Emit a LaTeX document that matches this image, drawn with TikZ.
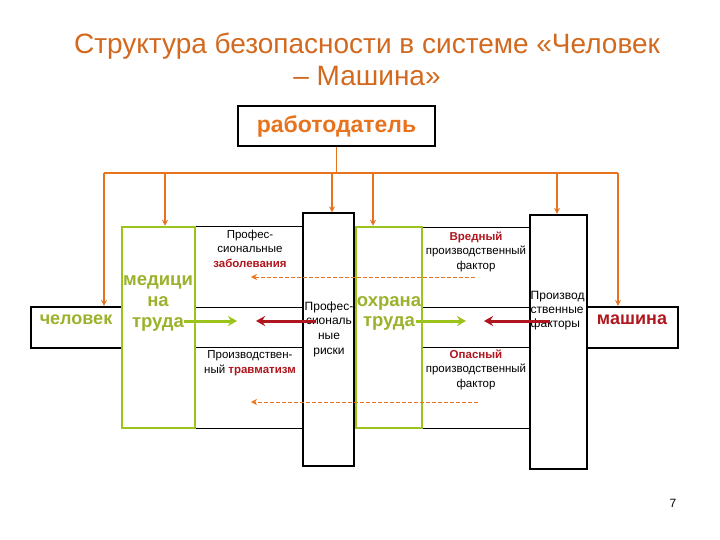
\documentclass[tikz,border=0pt]{standalone}
\usepackage{fontspec}
\setmainfont{Liberation Sans}
\usetikzlibrary{arrows.meta}
\definecolor{ttl}{HTML}{D2691E}
\definecolor{org}{HTML}{E8731E}
\definecolor{grn}{HTML}{9CC21C}
\definecolor{gtxt}{HTML}{9AB22C}
\definecolor{dred}{HTML}{B0161E}
\tikzset{
  thickbox/.style={draw=black, line width=2.2pt, inner sep=0pt},
  thinbox/.style={draw=black, line width=1pt, inner sep=0pt},
  greenbox/.style={draw=grn, line width=2.5pt, inner sep=0pt},
  bus/.style={draw=org, line width=2.5pt},
  stem/.style={draw=org, line width=1.3pt},
  drop/.style={draw=org, line width=2.5pt, -{Stealth[length=6pt,width=6pt]}},
  garrow/.style={draw=grn, line width=3pt, -{Stealth[length=9pt,width=10pt]}},
  rarrow/.style={draw=dred, line width=3pt, -{Stealth[length=9pt,width=10pt]}},
  darrow/.style={draw=org, line width=0.8pt, dash pattern=on 4pt off 2pt, -{Stealth[length=6pt,width=6pt]}},
  small/.style={font=\fontsize{11.5}{14.5}\selectfont, align=center, inner sep=0pt},
}
\begin{document}
\begin{tikzpicture}[x=1pt,y=-1pt]
\useasboundingbox (0,0) rectangle (720,540);
% title
\node[text=ttl, font=\fontsize{28}{32}\selectfont, align=center] (title) at (367,59) {Структура безопасности в системе «Человек\\– Машина»};
% employer
\node[thickbox, minimum width=197pt, minimum height=40pt, text=org, font=\fontsize{23}{26}\selectfont\bfseries] (emp) at (336.5,126) {работодатель};
% cell grids
\node[thinbox, minimum width=108pt, minimum height=201pt] (lcells) at (249,327.5) {};
\node[thinbox, minimum width=108pt, minimum height=200pt] (rcells) at (476,328) {};
\draw[line width=1pt] (lcells.west |- 0,307) -- (lcells.east |- 0,307);
\draw[line width=1pt] (lcells.west |- 0,347) -- (lcells.east |- 0,347);
\draw[line width=1pt] (rcells.west |- 0,307) -- (rcells.east |- 0,307);
\draw[line width=1pt] (rcells.west |- 0,347) -- (rcells.east |- 0,347);
% boxes
\node[thickbox, minimum width=91pt, minimum height=41pt] (chel) at (76.5,327.5) {};
\node[greenbox, minimum width=73pt, minimum height=201pt] (med) at (158.5,327.5) {};
\node[thinbox, line width=1.2pt, minimum width=51pt, minimum height=253pt] (prof) at (328.5,339.5) {};
\node[greenbox, minimum width=66pt, minimum height=201pt] (ohr) at (389,327.5) {};
\node[thickbox, minimum width=57pt, minimum height=254pt] (fact) at (558.5,342) {};
\node[thickbox, minimum width=91pt, minimum height=41pt] (mash) at (632.5,327.5) {};
% texts
\node[text=gtxt, font=\fontsize{18}{20}\selectfont\bfseries, inner sep=0pt] (chelt) at (76,320) {человек};
\node[text=gtxt, font=\fontsize{18.5}{21}\selectfont\bfseries, align=center, inner sep=0pt] (medt) at (158,303) {медици\\на\\труда};
\node[text=gtxt, font=\fontsize{18.5}{20}\selectfont\bfseries, align=center, inner sep=0pt] (ohrt) at (389,313) {охрана\\труда};
\node[text=dred, font=\fontsize{18}{20}\selectfont\bfseries, inner sep=0pt] (masht) at (632,320) {машина};
\node[small] (t1) at (250,248.5) {Профес-\\сиональные\\{\bfseries\color{dred}заболевания}};
\node[small] (t2) at (250,363) {Производствен-\\ный {\bfseries\color{dred}травматизм}};
\node[small, font=\fontsize{12}{14.7}\selectfont] (t3) at (329,329) {Профес-\\сиональ\\ные\\риски};
\node[small] (t4) at (476,251.5) {{\bfseries\color{dred}Вредный}\\производственный\\фактор};
\node[small] (t5) at (476,369.5) {{\bfseries\color{dred}Опасный}\\производственный\\фактор};
\node[small, align=left, anchor=west, font=\fontsize{12}{14}\selectfont] (t6) at (530.5,311) {Производ\\ственные\\факторы};
\node[font=\fontsize{12}{14}\selectfont, inner sep=0pt] (pg) at (673,503) {7};
% bus
\coordinate (busL) at (104,173);
\coordinate (busR) at (618,173);
\coordinate (busM) at (emp.south |- busL);
\draw[stem] (emp.south) -- (busM);
\draw[bus] (busL) -- (busR);
\coordinate (b1) at (104,173);
\coordinate (b2) at (165,173);
\coordinate (b3) at (332,173);
\coordinate (b4) at (373,173);
\coordinate (b5) at (557,173);
\coordinate (b6) at (618,173);
\draw[drop] (b1) -- (chel.north -| b1);
\draw[drop] (b2) -- (med.north -| b2);
\draw[drop] (b3) -- (prof.north -| b3);
\draw[drop] (b4) -- (ohr.north -| b4);
\draw[drop] (b5) -- (fact.north -| b5);
\draw[drop] (b6) -- (mash.north -| b6);
% arrows
\coordinate (g1s) at (184,321); \coordinate (g1e) at (237,321);
\coordinate (r1s) at (316,321); \coordinate (r1e) at (256,321);
\coordinate (g2s) at (416,321); \coordinate (g2e) at (466,321);
\coordinate (r2s) at (550,321); \coordinate (r2e) at (484,321);
\draw[garrow] (g1s) -- (g1e);
\draw[rarrow] (r1s) -- (r1e);
\draw[garrow] (g2s) -- (g2e);
\draw[rarrow] (r2s) -- (r2e);
\coordinate (d1s) at (475,277); \coordinate (d1e) at (251,277);
\coordinate (d2s) at (478,402); \coordinate (d2e) at (251,402);
\draw[darrow] (d1s) -- (d1e);
\draw[darrow] (d2s) -- (d2e);
\end{tikzpicture}
\end{document}
